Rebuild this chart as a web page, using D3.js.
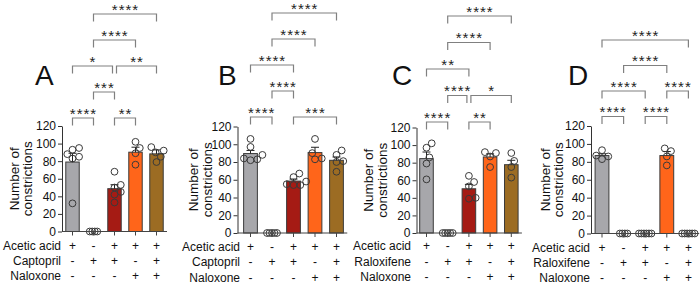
<!DOCTYPE html>
<html><head><meta charset="utf-8">
<script src="https://cdn.jsdelivr.net/npm/d3@7"></script>
<style>body{margin:0;background:#fff}svg{display:block}text{font-family:"Liberation Sans",Arial,sans-serif}</style>
</head><body>
<svg id="chart" width="700" height="285"></svg>
<script>
// ---------- data ----------
const groups = ["g1","g2","g3","g4","g5"];
const panelLetters = ["A","B","C","D"];
const yTicks = [0,20,40,60,80,100,120];
const yTitle = ["Number of","constrictions"];
const rowLabelsA = ["Acetic acid","Captopril","Naloxone"];
const rowLabelsB = ["Acetic acid","Captopril","Naloxone"];
const rowLabelsC = ["Acetic acid","Raloxifene","Naloxone"];
const rowLabelsD = ["Acetic acid","Raloxifene","Naloxone"];
const signs = [["+","-","+","+","+"],["-","+","+","-","+"],["-","-","-","+","+"]];
const barColors = ["#a7a7ab","#a51b14","#a51b14","#ff651a","#9c6c23"];

const meansA = [79, 0, 48.7, 90.2, 88.3];
const semA   = [10, 0, 4.5, 5.7, 4.5];
const pointsA = [[93,95,85,88,83,32],[0,0,0,0],[68,53,50,45,42,33],[102,95,89,76],[92,96,90,85,79]];
const compA = [[0,1,0,"****"],[2,3,0,"**"],[1,2,1,"***"],[0,2,2,"*"],[2,4,2,"**"],[1,3,3,"****"],[1,4,4,"****"]];

const meansB = [89.5, 0, 58.5, 90.6, 81.9];
const semB   = [3.5, 0, 2.3, 6, 3.8];
const pointsB = [[106,97,88,83,82,84],[0,0,0,0,0],[67,63,58,54,54,55],[106,90,84,83],[93,88,81,80,69]];
const compB = [[0,1,0,"****"],[2,4,0,"***"],[1,2,1,"****"],[0,2,2,"****"],[1,3,3,"****"],[1,4,4,"****"]];

const meansC = [84.6, 0, 50.3, 86.5, 77.7];
const semC   = [7.5, 0, 5, 3.5, 5];
const pointsC = [[102,97,86,79,61],[0,0,0,0,0],[65,58,53,39,40],[91,92,87,75],[91,82,75,63]];
const compC = [[0,1,0,"****"],[2,3,0,"**"],[1,2,1,"****"],[2,4,1,"*"],[0,2,2,"**"],[1,3,3,"****"],[1,4,4,"****"]];

const meansD = [87, 0, 0, 87, 0];
const semD   = [2, 0, 0, 4.5, 0];
const pointsD = [[93,83,86,87],[0,0,0,0],[0,0,0,0,0,0],[92,95,86,76],[0,0,0,0,0,0]];
const compD = [[0,1,0,"****"],[2,3,0,"****"],[0,2,1,"****"],[3,4,1,"****"],[1,3,2,"****"],[0,4,3,"****"]];

// ---------- layout ----------
const layouts = [
  {axisX:62,   y0:231.5, yTop:126,   first:72.5,  step:21,   letterX:35,  labelRight:61,  rows:[249.5,264.5,280], bBase:118,   bStep:26,   t1:-43.5, t2:-30.5},
  {axisX:237.5,y0:233,   yTop:126.5, first:250.5, step:21.5, letterX:218, labelRight:240, rows:[250.5,266,282],   bBase:117,   bStep:26,   t1:-40,   t2:-26},
  {axisX:416.5,y0:233,   yTop:127.5, first:426.5, step:21.2, letterX:392, labelRight:411, rows:[250,265.5,281],   bBase:122,   bStep:26.5, t1:-43.5, t2:-29.5},
  {axisX:591,  y0:233.5, yTop:126,   first:602,   step:21.6, letterX:568, labelRight:590, rows:[251.5,266.5,282], bBase:116.5, bStep:25.5, t1:-41.5, t2:-28}
];
const panelData = [
  {means:meansA, sem:semA, points:pointsA, comps:compA, rows:rowLabelsA},
  {means:meansB, sem:semB, points:pointsB, comps:compB, rows:rowLabelsB},
  {means:meansC, sem:semC, points:pointsC, comps:compC, rows:rowLabelsC},
  {means:meansD, sem:semD, points:pointsD, comps:compD, rows:rowLabelsD}
];

const svg = d3.select("#chart");
svg.append("rect").attr("width",700).attr("height",285).attr("fill","#fff");

function swarm(vals, y, D) {
  const allSame = vals.every(v => v === vals[0]);
  if (allSame) return vals.map((v,i) => ({v, dx:(i-(vals.length-1)/2)*2.5}));
  const sorted = vals.map(v=>({v, py:y(v)})).sort((a,b)=>a.v-b.v);
  const placed = [];
  sorted.forEach(p => {
    const cands = [0];
    placed.forEach(q => {
      const dy = Math.abs(q.py - p.py);
      if (dy < D) { const w = Math.sqrt(D*D - dy*dy); cands.push(q.dx + w + 0.01, q.dx - w - 0.01); }
    });
    cands.sort((a,b)=>Math.abs(a)-Math.abs(b) || b-a);
    for (const c of cands) {
      if (placed.every(q => (q.dx-c)**2 + (q.py-p.py)**2 >= D*D - 0.01)) { p.dx = c; break; }
    }
    placed.push(p);
  });
  return placed;
}

layouts.forEach((L, pi) => {
  const P = panelData[pi];
  const g = svg.append("g");
  const y = d3.scaleLinear().domain([0,120]).range([L.y0, L.yTop]);
  const start = L.first - L.step/2;
  const x = d3.scaleBand().domain(groups).range([start, start + 5*L.step]).paddingInner(0.36).paddingOuter(0.18);
  const bw = x.bandwidth();
  const cx = i => x(groups[i]) + bw/2;

  // bars
  g.selectAll("rect.bar").data(P.means).join("rect")
    .attr("x",(d,i)=>x(groups[i])).attr("width",bw)
    .attr("y",d=>y(d)).attr("height",d=>L.y0 - y(d))
    .attr("fill",(d,i)=>barColors[i]).attr("stroke","#3a3a3a").attr("stroke-width",1);

  // error bars (upward)
  P.means.forEach((m,i) => {
    if (P.sem[i] <= 0) return;
    const x0 = cx(i);
    g.append("line").attr("x1",x0).attr("x2",x0).attr("y1",y(m)).attr("y2",y(m+P.sem[i])).attr("stroke","#222").attr("stroke-width",1);
    g.append("line").attr("x1",x0-4).attr("x2",x0+4).attr("y1",y(m+P.sem[i])).attr("y2",y(m+P.sem[i])).attr("stroke","#222").attr("stroke-width",1);
  });

  // points
  P.points.forEach((vals,i) => {
    const sw = swarm(vals, y, 6.8);
    g.selectAll(null).data(sw).join("circle")
      .attr("cx",d=>cx(i)+d.dx).attr("cy",d=>y(d.v)).attr("r",3.4)
      .attr("fill","none").attr("stroke","#3a3a3a").attr("stroke-width",1);
  });

  // y axis
  const ya = g.append("g").attr("transform",`translate(${L.axisX},0)`)
    .call(d3.axisLeft(y).tickValues(yTicks).tickSize(4).tickSizeOuter(0).tickPadding(2));
  ya.selectAll("path,line").attr("stroke","#333").attr("stroke-width",1);
  ya.selectAll("text").attr("font-size","12px").attr("fill","#111").style("font-family",'"Liberation Sans",Arial,sans-serif');

  // x axis
  const xa = g.append("g").attr("transform",`translate(0,${L.y0})`)
    .call(d3.axisBottom(x).tickSize(4).tickSizeOuter(0).tickFormat(""));
  xa.select("path.domain").attr("d",`M${L.axisX},0H${start+5*L.step}`);
  xa.selectAll("path,line").attr("stroke","#444").attr("stroke-width",1);

  // y title
  const tc = (L.y0 + L.yTop)/2;
  [L.t1, L.t2].forEach((dx,k) => {
    g.append("text").attr("transform",`translate(${L.axisX+dx},${tc}) rotate(-90)`)
      .attr("text-anchor","middle").attr("font-size","13.5px").attr("fill","#111").text(yTitle[k]);
  });

  // panel letter
  g.append("text").attr("x",L.letterX).attr("y",85).attr("font-size","28px").attr("fill","#111").text(panelLetters[pi]);

  // sign rows
  P.rows.forEach((lab,r) => {
    g.append("text").attr("x",L.labelRight).attr("y",L.rows[r]).attr("text-anchor","end")
      .attr("font-size","12px").attr("fill","#111").text(lab);
    signs[r].forEach((s,i) => {
      g.append("text").attr("x",cx(i)).attr("y",L.rows[r]).attr("text-anchor","middle")
        .attr("font-size","12px").attr("fill","#111").text(s);
    });
  });

  // brackets
  P.comps.forEach(([a,b,lev,lab]) => {
    let x1 = cx(a), x2 = cx(b);
    P.comps.forEach(([a2,b2,lev2]) => {
      if (lev2 !== lev) return;
      if (b2 === a && a2 !== a) x1 += 2;
      if (a2 === b && b2 !== b) x2 -= 2;
    });
    const by = L.bBase - lev*L.bStep;
    g.append("path").attr("d",`M${x1},${by+7.5}V${by}H${x2}V${by+7.5}`)
      .attr("fill","none").attr("stroke","#808080").attr("stroke-width",1.2);
    g.append("text").attr("x",(x1+x2)/2 + 0.5).attr("y",by+0.5).attr("text-anchor","middle")
      .attr("font-size","15px").attr("letter-spacing","1px").attr("fill","#222").text(lab);
  });
});
</script>
</body></html>
